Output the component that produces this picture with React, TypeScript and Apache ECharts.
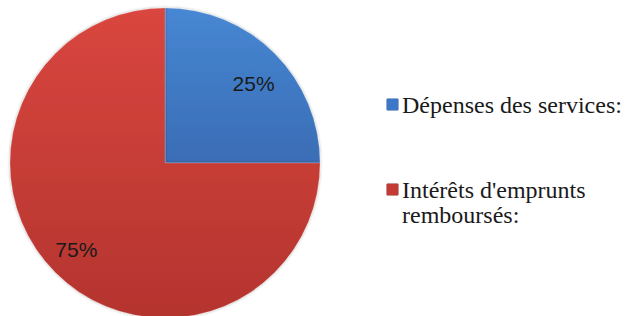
import React, { useEffect, useRef } from "react";
import * as echarts from "echarts";

const categories = ["Dépenses des services:", "Intérêts d'emprunts remboursés:"];
const values = [25, 75];
const legendLines = [["Dépenses des services:"], ["Intérêts d'emprunts", "remboursés:"]];
const sliceColors = [
  ["#4787d3", "#3a6db5"],
  ["#d9463f", "#b4342e"],
];
const swatchColors = ["#3d78c8", "#c43a35"];

export default function App() {
  const ref = useRef<HTMLDivElement>(null);
  useEffect(() => {
    if (!ref.current) return;
    const chart = echarts.init(ref.current, null, { renderer: "svg" });
    const data = categories.map((name, i) => ({
      name,
      value: values[i],
      itemStyle: {
        color: new echarts.graphic.LinearGradient(0, 0, 0, 1, [
          { offset: 0, color: sliceColors[i][0] },
          { offset: 1, color: sliceColors[i][1] },
        ]),
      },
    }));
    const center = [165, 163];
    const legendTops = [87, 172];
    chart.setOption({
      animation: false,
      legend: categories.map((name, i) => ({
        data: [name],
        left: 376,
        top: legendTops[i],
        itemWidth: 0,
        itemHeight: 0,
        formatter: () =>
          legendLines[i]
            .map((l, j) => (j === 0 ? `{sq${i}| }{gap| }${l}` : `{ind| }${l}`))
            .join("\n"),
        textStyle: {
          fontFamily: "Liberation Serif",
          fontSize: 24,
          lineHeight: 25,
          color: "#1a1a1a",
          rich: {
            sq0: { width: 11, height: 11, backgroundColor: swatchColors[0], borderColor: "#2d5d9e", borderWidth: 0.5 },
            sq1: { width: 11, height: 11, backgroundColor: swatchColors[1], borderColor: "#8f2622", borderWidth: 0.5 },
            gap: { width: 4 },
            ind: { width: 15 },
          },
        },
      })),
      series: [
        {
          type: "pie",
          center,
          radius: [0, 155],
          startAngle: 90,
          clockwise: true,
          silent: true,
          label: { show: false },
          labelLine: { show: false },
          itemStyle: {
            borderColor: "rgba(255,255,255,0.18)",
            borderWidth: 1,
            shadowBlur: 3,
            shadowColor: "rgba(0,0,0,0.35)",
          },
          data,
        },
        {
          type: "pie",
          center,
          radius: [84, 155],
          startAngle: 90,
          clockwise: true,
          silent: true,
          itemStyle: { color: "transparent" },
          label: {
            show: true,
            position: "inside",
            formatter: "{d}%",
            fontSize: 21,
            color: "#1a1a1a",
          },
          labelLayout: (p: any) => (p.dataIndex === 0 ? { dy: 7, dx: 2 } : { dx: -2 }),
          labelLine: { show: false },
          data: values.map((value, i) => ({ name: `pct-${i}`, value })),
        },
      ],
    });
    return () => chart.dispose();
  }, []);
  return (
    <div
      ref={ref}
      style={{ position: "absolute", left: 0, top: 0, width: 632, height: 316, background: "#fff" }}
    />
  );
}
